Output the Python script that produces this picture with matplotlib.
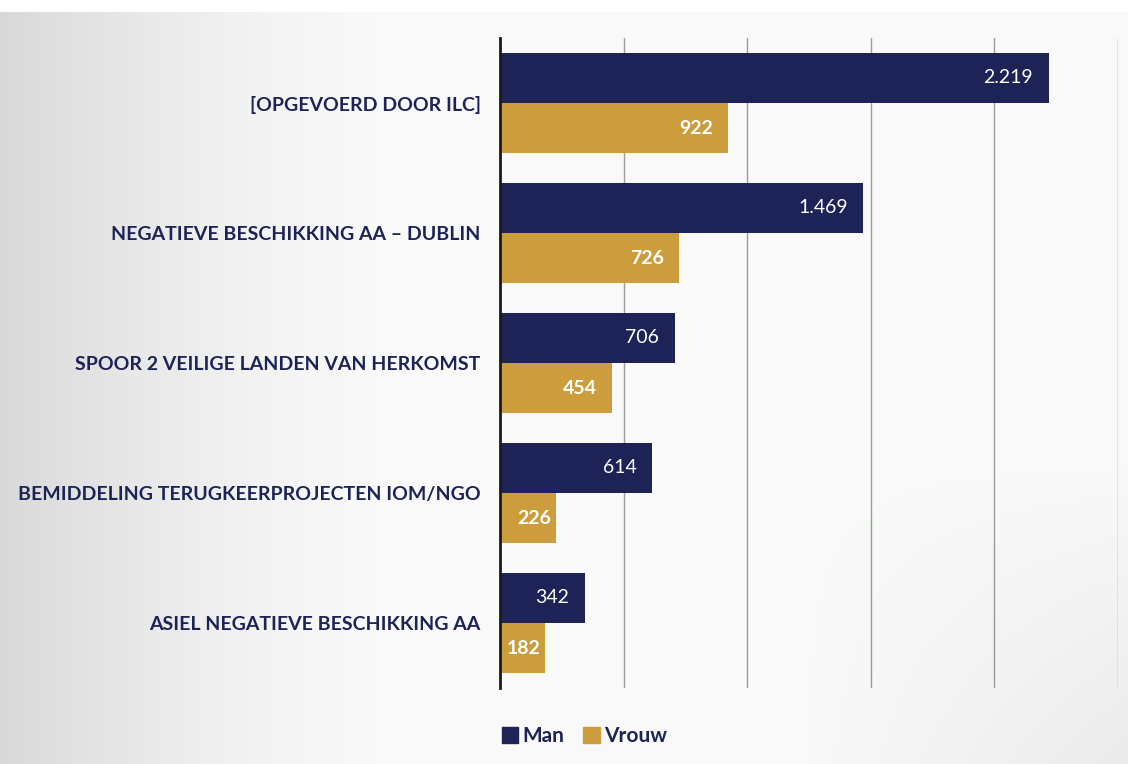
import numpy as np
from matplotlib import pyplot as plt
from matplotlib.patches import Patch

categories = ['[OPGEVOERD DOOR ILC]',
              'NEGATIEVE BESCHIKKING AA \u2013 DUBLIN',
              'SPOOR 2 VEILIGE LANDEN VAN HERKOMST',
              'BEMIDDELING TERUGKEERPROJECTEN IOM/NGO',
              'ASIEL NEGATIEVE BESCHIKKING AA']
man = [2219, 1469, 706, 614, 342]
vrouw = [922, 726, 454, 226, 182]
series_names = ['Man', 'Vrouw']

navy = '#1d2257'
gold = '#cc9d3c'

plt.rcParams['font.family'] = ['Lato', 'DejaVu Sans']

fig = plt.figure(figsize=(11.35, 7.64), dpi=100)

# soft grey backdrop, darker at the left and lower right
bg = fig.add_axes([0, 0, 1, 1], zorder=-10)
h, w = 764, 1135
xx, yy = np.meshgrid(np.linspace(0, 1, w), np.linspace(0, 1, h))
shade = 0.975 - 0.13 * np.clip(1 - xx / 0.35, 0, 1) ** 1.5
shade -= 0.06 * np.clip((xx - 0.7) / 0.3, 0, 1) * np.clip((yy - 0.6) / 0.4, 0, 1)
shade[:12, :] = 1.0
shade[:, 1128:] = 1.0
bg.imshow(np.dstack([shade, shade * 1.005, shade]).clip(0, 1), aspect='auto',
          extent=[0, 1, 0, 1], origin='upper')
bg.axis('off')

ax = fig.add_axes([500 / 1135, 1 - 688 / 764, 618 / 1135, 650 / 764])
ax.patch.set_alpha(0)

y = np.arange(len(categories))
bh = 0.385
ax.barh(y - bh / 2, man, height=bh, color=navy, label=series_names[0], zorder=3)
ax.barh(y + bh / 2, vrouw, height=bh, color=gold, label=series_names[1], zorder=3)


def label_bar(val, ypos, weight):
    # short bars get their label pushed close to the end so it stays inside
    off = -3.5 if val < 250 else -11
    ax.annotate(f'{val:,}'.replace(',', '.'), (val, ypos),
                xytext=(off, 0), textcoords='offset points', ha='right', va='center',
                color='white', fontsize=14, fontweight=weight, zorder=4)


for i in range(len(categories)):
    label_bar(man[i], y[i] - bh / 2, 'normal')
    label_bar(vrouw[i], y[i] + bh / 2, 'bold')

ax.set_xlim(0, 2500)
ax.set_ylim(len(categories) - 0.5, -0.5)
ax.set_xticks([0, 500, 1000, 1500, 2000, 2500])
ax.set_xticklabels([])
ax.tick_params(axis='both', length=0)
ax.grid(axis='x', color='#9a9a9a', linewidth=1.0, zorder=0)
ax.set_yticks(y)
ax.set_yticklabels(categories, fontsize=14, fontweight='bold', color=navy)
ax.tick_params(axis='y', pad=14)
for s in ['top', 'right', 'bottom']:
    ax.spines[s].set_visible(False)
ax.spines['left'].set_linewidth(2)
ax.spines['left'].set_color('#1a1a1a')
ax.spines['left'].set_zorder(5)

handles = [Patch(color=navy), Patch(color=gold)]
leg = fig.legend(handles, series_names, loc='center left', bbox_to_anchor=(483 / 1135, 1 - 736 / 764),
                 ncol=2, frameon=False, handlelength=0.8, handleheight=0.8, handletextpad=0.2,
                 columnspacing=0.9, prop={'size': 15, 'weight': 'bold'})
for t in leg.get_texts():
    t.set_color(navy)

fig.savefig('out.png', dpi=100)
